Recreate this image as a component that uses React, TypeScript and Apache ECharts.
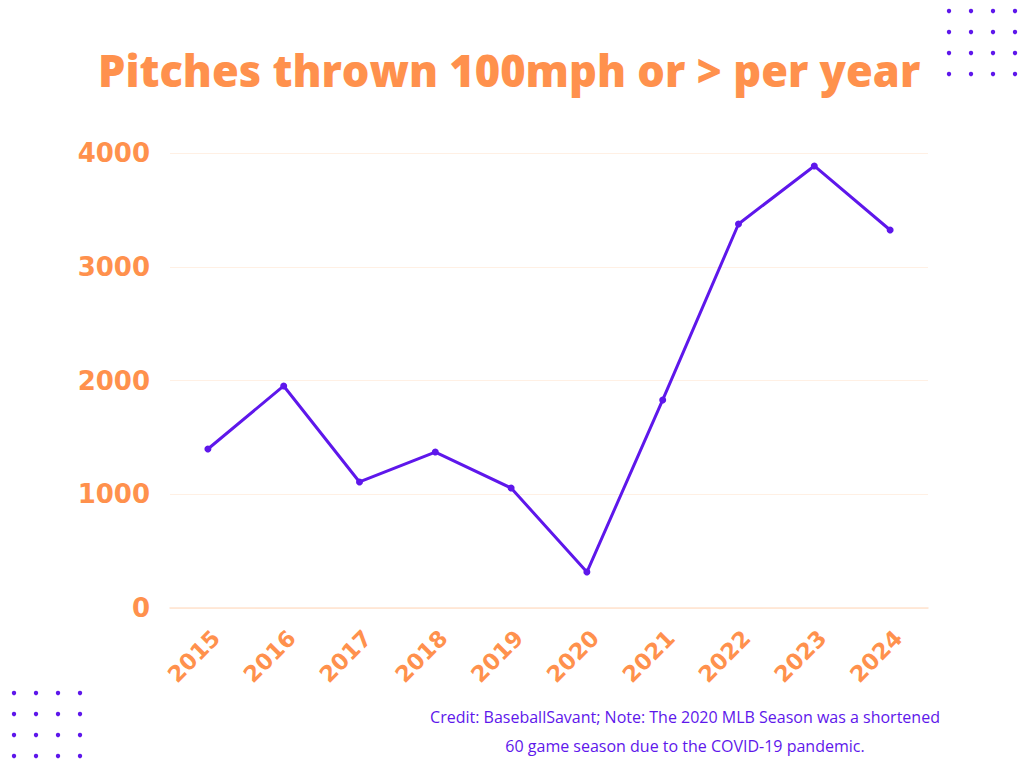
import React, { useEffect, useRef } from "react";
import * as echarts from "echarts";

const years = ["2015", "2016", "2017", "2018", "2019", "2020", "2021", "2022", "2023", "2024"];
const pitches = [1398, 1952, 1108, 1371, 1055, 316, 1829, 3376, 3886, 3323];
const yTicks = [0, 1000, 2000, 3000, 4000];

const ORANGE = "#FF914D";
const PURPLE = "#5E17EB";

const dotXTop = [949, 971, 993, 1015];
const dotYTop = [11, 32, 53, 74];
const dotXBot = [14, 36, 58, 80];
const dotYBot = [693, 714, 735, 756];

function dots(xs: number[], ys: number[]) {
  const out: any[] = [];
  for (const y of ys) for (const x of xs) out.push({ type: "circle", shape: { cx: x, cy: y, r: 2.2 }, style: { fill: PURPLE } });
  return out;
}

export default function App() {
  const ref = useRef<HTMLDivElement>(null);
  useEffect(() => {
    if (!ref.current) return;
    const chart = echarts.init(ref.current, null, { renderer: "svg" });
    chart.setOption({
      animation: false,
      backgroundColor: "#ffffff",
      title: {
        text: "Pitches thrown 100mph or > per year",
        left: 93,
        top: 44,
        textStyle: { color: ORANGE, fontSize: 43.4, fontWeight: 800, fontFamily: "Open Sans" },
      },
      grid: [
        { left: 170, right: 96, top: 153, bottom: 160 },
        { left: 178, right: 88, top: 153, bottom: 160 },
      ],
      xAxis: [
        {
          type: "category",
          data: years,
          boundaryGap: true,
          gridIndex: 0,
          axisLine: { show: true, lineStyle: { color: "#FFE3CF", width: 1.5 } },
          axisTick: { show: false },
          axisLabel: { show: false },
        },
        {
          type: "category",
          data: years,
          boundaryGap: true,
          gridIndex: 1,
          axisLine: { show: false },
          axisTick: { show: false },
          axisLabel: {
            rotate: 45,
            color: ORANGE,
            fontSize: 22.5,
            fontWeight: "bold",
            fontFamily: "DejaVu Sans",
            margin: 26,
          },
        },
      ],
      yAxis: [
        {
          type: "value",
          gridIndex: 0,
          min: yTicks[0],
          max: yTicks[yTicks.length - 1],
          interval: 1000,
          axisLine: { show: false },
          axisTick: { show: false },
          splitLine: { lineStyle: { color: "#FFF0E4", width: 1 } },
          axisLabel: {
            color: ORANGE,
            fontSize: 26,
            fontWeight: "bold",
            fontFamily: "DejaVu Sans",
            margin: 20,
            formatter: (v: number) => String(v),
          },
        },
        {
          type: "value",
          gridIndex: 1,
          min: yTicks[0],
          max: yTicks[yTicks.length - 1],
          interval: 1000,
          show: false,
        },
      ],
      series: [
        {
          type: "line",
          xAxisIndex: 0,
          yAxisIndex: 0,
          data: pitches,
          symbol: "circle",
          symbolSize: 7,
          lineStyle: { color: PURPLE, width: 3 },
          itemStyle: { color: PURPLE },
        },
      ],
      graphic: [
        ...dots(dotXTop, dotYTop),
        ...dots(dotXBot, dotYBot),
        {
          type: "text",
          x: 685,
          y: 717,
          style: {
            text: "Credit: BaseballSavant; Note: The 2020 MLB Season was a shortened",
            fill: PURPLE,
            fontSize: 16,
            fontFamily: "Open Sans",
            align: "center",
            verticalAlign: "middle",
          },
        },
        {
          type: "text",
          x: 685,
          y: 746,
          style: {
            text: "60 game season due to the COVID-19 pandemic.",
            fill: PURPLE,
            fontSize: 16,
            fontFamily: "Open Sans",
            align: "center",
            verticalAlign: "middle",
          },
        },
      ],
    });
    return () => chart.dispose();
  }, []);
  return <div ref={ref} style={{ width: 1024, height: 768, position: "absolute", left: 0, top: 0 }} />;
}
